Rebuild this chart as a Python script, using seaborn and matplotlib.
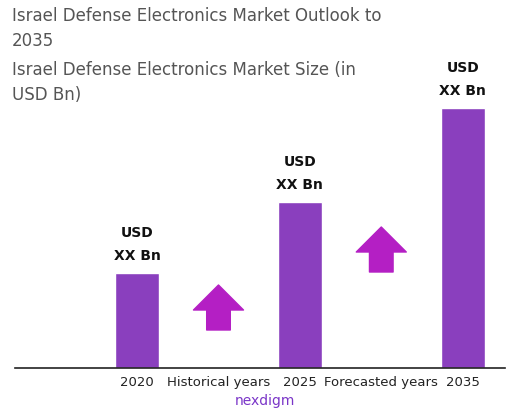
import seaborn as sns
import pandas as pd
import matplotlib.pyplot as plt

categories = ["2020", "Historical years", "2025", "Forecasted years", "2035"]
values = [95, 0, 166, 0, 260]
bar_labels = ["USD\nXX Bn", "", "USD\nXX Bn", "", "USD\nXX Bn"]

df = pd.DataFrame({"period": categories, "size": values})

sns.set_theme(style="white")
plt.rcParams['font.family'] = ['DejaVu Sans']
fig = plt.figure(figsize=(5.19, 4.11), dpi=100)
ax = fig.add_axes([15 / 519, 43 / 411, 490 / 519, 310 / 411])
sns.barplot(data=df, x="period", y="size", color="#8A3FBE", saturation=1, width=0.54, ax=ax)

for i, (v, lab) in enumerate(zip(values, bar_labels)):
    if lab:
        ax.text(i, v + 10, lab, ha="center", va="bottom", fontsize=10,
                fontweight="bold", linespacing=1.8, color="#111111")

# growth arrows
for i, y0 in [(1, 38), (3, 96)]:
    ax.annotate("", xy=(i, y0 + 45), xytext=(i, y0),
                arrowprops=dict(facecolor="#B41FC4", edgecolor="#B41FC4",
                                width=17, headwidth=36, headlength=18))

ax.set_xlim(-1.5, 4.52)
ax.set_ylim(0, 310)
ax.set_xlabel("")
ax.set_ylabel("")
ax.set_yticks([])
ax.tick_params(axis="x", labelsize=9.5, length=0, pad=6, colors="#222222")
for s in ["top", "right", "left"]:
    ax.spines[s].set_visible(False)
ax.spines["bottom"].set_color("#222222")
ax.spines["bottom"].set_linewidth(1.2)

fig.text(12 / 519, 1 - 7 / 411, "Israel Defense Electronics Market Outlook to\n2035",
         fontsize=12, color="#555555", va="top", linespacing=1.5)
fig.text(12 / 519, 1 - 61 / 411, "Israel Defense Electronics Market Size (in\nUSD Bn)",
         fontsize=12, color="#555555", va="top", linespacing=1.5)
fig.text(265 / 519, 1 - 401 / 411, "nexdigm", fontsize=10, color="#7A35C8",
         ha="center", va="center")

fig.savefig("out.png", dpi=100)
